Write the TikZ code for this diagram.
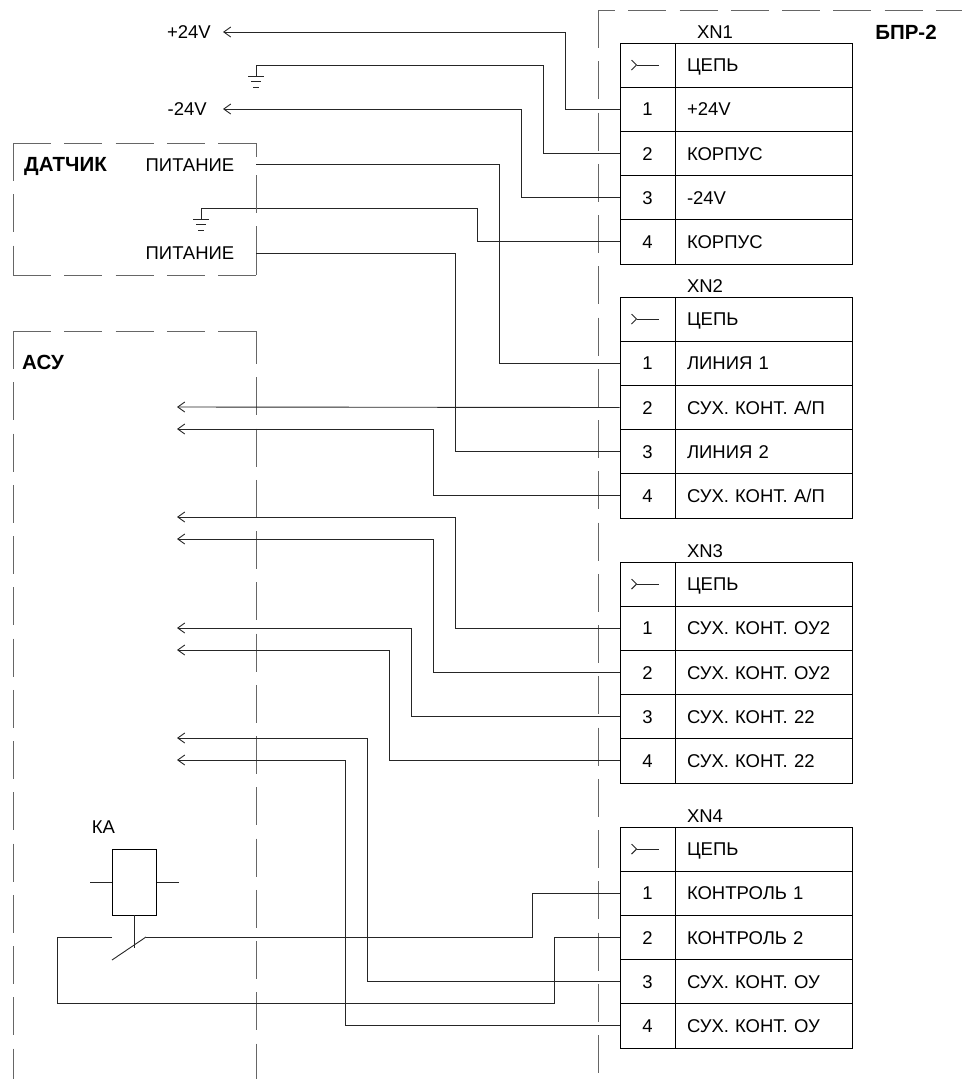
\documentclass[tikz,border=0pt]{standalone}
\usepackage{fontspec}
\setmainfont{Liberation Sans}
\usetikzlibrary{arrows.meta}

\tikzset{
  wire/.style={line width=0.9pt, black!85},
  inwire/.style={wire, {Straight Barb[length=7pt,width=10pt]}-},
  frameline/.style={line width=0.8pt, black!60, dash pattern=on 38pt off 13.25pt},
  pincell/.style={draw, line width=0.9pt, minimum width=55pt, minimum height=44.2pt, inner sep=0pt, text height=13.2pt, text depth=0pt, font=\fontsize{18.5}{20}\selectfont},
  namecell/.style={draw, line width=0.9pt, minimum width=177pt, minimum height=44.2pt, inner sep=0pt, text width=153pt, text height=13.2pt, text depth=0pt, align=left, font=\fontsize{18.5}{20}\selectfont},
  lbl/.style={inner sep=0pt, text height=13.2pt, text depth=0pt, font=\fontsize{18.5}{20}\selectfont},
  boldlbl/.style={inner sep=0pt, text height=14.7pt, text depth=0pt, font=\fontsize{20.5}{22}\selectfont\bfseries},
  earthbar/.style={line width=0.8pt, black!85}
}

\begin{document}
\begin{tikzpicture}[x=1pt, y=-1pt]
    \useasboundingbox (0,0) rectangle (962,1079);

    % Unit frame
    \draw[frameline] (598,10) -- (598,1073);
    \draw[frameline, dash phase=21pt] (598,10) -- (962,10);
    \node[boldlbl] (unitname) at (906,32) {БПР-2};

    % Connector tables
    \foreach \n/\topy/\titlex/\a/\b/\c/\d in {
      1/43/715/+24V/КОРПУС/-24V/КОРПУС,
      2/297/705/ЛИНИЯ 1/{СУХ. КОНТ. А/П}/ЛИНИЯ 2/{СУХ. КОНТ. А/П},
      3/562/705/{СУХ. КОНТ. ОУ2}/{СУХ. КОНТ. ОУ2}/{СУХ. КОНТ. 22}/{СУХ. КОНТ. 22},
      4/827/705/КОНТРОЛЬ 1/КОНТРОЛЬ 2/{СУХ. КОНТ. ОУ}/{СУХ. КОНТ. ОУ}}
    {
      \node[lbl] (xn\n) at (\titlex,\topy-11) {XN\n};
      \node[pincell] (xn\n-0) at (647.5,\topy+22.1) {};
      \node[namecell] (name\n-0) at (763.5,\topy+22.1) {ЦЕПЬ};
      \draw[wire] (xn\n-0.center) ++(-16,-5) -- ++(5,5) -- ++(-5,5);
      \draw[wire] (xn\n-0.center) ++(-11,0) -- ++(22,0);
      \node[pincell] (xn\n-1) at (647.5,\topy+66.3) {1};
      \node[namecell] (name\n-1) at (763.5,\topy+66.3) {\a};
      \node[pincell] (xn\n-2) at (647.5,\topy+110.5) {2};
      \node[namecell] (name\n-2) at (763.5,\topy+110.5) {\b};
      \node[pincell] (xn\n-3) at (647.5,\topy+154.7) {3};
      \node[namecell] (name\n-3) at (763.5,\topy+154.7) {\c};
      \node[pincell] (xn\n-4) at (647.5,\topy+198.9) {4};
      \node[namecell] (name\n-4) at (763.5,\topy+198.9) {\d};
    }

    % Supply
    \node[lbl, anchor=east] (vplus) at (211,32) {+24V};
    \node[lbl, anchor=east] (vminus) at (207,109) {-24V};
    \draw[inwire, shorten <=12pt] (vplus.east) -- (565,32) |- (xn1-1.west);
    \draw[inwire, shorten <=16pt] (vminus.east) -- (521,109) |- (xn1-3.west);

    % Earth symbols
    \coordinate (earthtop) at (256,76);
    \coordinate (earthsens) at (201,219);
    \foreach \e in {earthtop, earthsens} {
      \draw[earthbar] (\e) ++(-8,0) -- ++(16,0);
      \draw[earthbar] (\e) ++(-5,5.5) -- ++(10,0);
      \draw[earthbar] (\e) ++(-3,11) -- ++(6,0);
    }
    \draw[wire] (earthtop) -- (256,65) -- (543,65) |- (xn1-2.west);
    \draw[wire] (earthsens) -- (201,208) -- (477,208) |- (xn1-4.west);

    % Sensor
    \coordinate (sensorR) at (256,143);
    \draw[frameline] (13,143) -- (sensorR);
    \draw[frameline] (13,275) -- (256,275);
    \draw[frameline] (13,143) -- (13,275);
    \draw[frameline, dash pattern=on 14pt off 18pt on 38pt off 13pt on 50pt off 1pt] (sensorR) -- (256,275);
    \node[boldlbl, anchor=west] (sensor) at (24,164) {ДАТЧИК};
    \node[lbl] (power1) at (190,164.5) {ПИТАНИЕ};
    \node[lbl] (power2) at (190,253) {ПИТАНИЕ};
    \draw[wire] (power1 -| sensorR) -- (499,164.5) |- (xn2-1.west);
    \draw[wire] (power2 -| sensorR) -- (455,253) |- (xn2-3.west);

    % ASU
    \draw[frameline] (13,331) -- (256,331);
    \draw[frameline] (13,331) -- (13,1079);
    \draw[frameline, dash phase=5pt] (256,331) -- (256,1079);
    \node[boldlbl, anchor=west] (asu) at (22,362) {АСУ};

    % Signals going to ASU
    \coordinate (sig1) at (177,407);
    \coordinate (sig2) at (177,429);
    \coordinate (sig3) at (177,517);
    \coordinate (sig4) at (177,539);
    \coordinate (sig5) at (177,628);
    \coordinate (sig6) at (177,650);
    \coordinate (sig7) at (177,738);
    \coordinate (sig8) at (177,760);
    \draw[inwire] (sig1) -- (xn2-2.west);
    \draw[inwire] (sig2) -- (433,429) |- (xn2-4.west);
    \draw[inwire] (sig3) -- (455,517) |- (xn3-1.west);
    \draw[inwire] (sig4) -- (433,539) |- (xn3-2.west);
    \draw[inwire] (sig5) -- (411,628) |- (xn3-3.west);
    \draw[inwire] (sig6) -- (389,650) |- (xn3-4.west);
    \draw[inwire] (sig7) -- (367,738) |- (xn4-3.west);
    \draw[inwire] (sig8) -- (345,760) |- (xn4-4.west);

    % Relay KA
    \node[lbl] (katitle) at (103.5,827) {КА};
    \node[draw, line width=0.9pt, minimum width=44pt, minimum height=66pt, inner sep=0pt] (coil) at (134.5,882) {};
    \coordinate (coilL) at (90,882);
    \coordinate (coilR) at (179,882);
    \coordinate (stem) at (134.5,948);
    \coordinate (contactL) at (112,937);
    \coordinate (contactR) at (146,937);
    \coordinate (contactO) at (112,960);
    \draw[wire] (coilL) -- (coil.west);
    \draw[wire] (coilR) -- (coil.east);
    \draw[wire] (coil.south) -- (stem);
    \draw[wire] (contactO) -- (contactR);
    \draw[wire] (contactR) -- (532,937) |- (xn4-1.west);
    \draw[wire] (contactL) -- (57,937) -- (57,1003) -- (554,1003) |- (xn4-2.west);
\end{tikzpicture}
\end{document}
